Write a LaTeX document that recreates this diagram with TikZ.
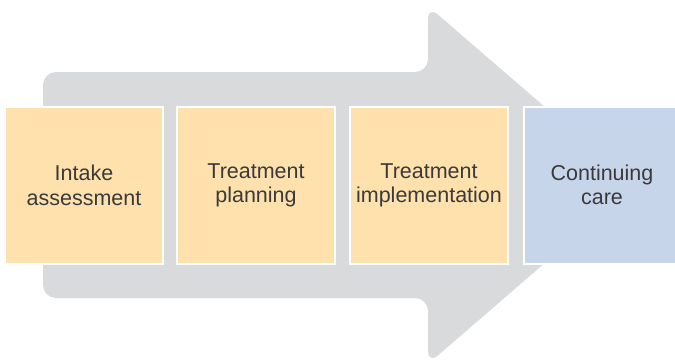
\documentclass[tikz,border=0pt]{standalone}
\usepackage{fontspec}
\setmainfont{Liberation Sans}
\definecolor{arrowgray}{HTML}{D9DADC}
\definecolor{stepyellow}{HTML}{FEE1AD}
\definecolor{stepblue}{HTML}{C7D5EB}
\definecolor{txt}{HTML}{3A3A3A}
\begin{document}
\begin{tikzpicture}[x=1bp,y=-1bp,
  stepbox/.style={draw=white,line width=2bp,minimum width=158bp,minimum height=157bp,
    inner sep=0pt,align=center,text=txt,anchor=north west,
    font=\fontsize{21.5bp}{24.5bp}\selectfont}]
\useasboundingbox (0,0) rectangle (675,361);
\begin{scope}
\clip (0,0) rectangle (675,361);
\fill[arrowgray,rounded corners=13bp] (43,72) -- (428,72) -- (428,6) -- (635,185) -- (428,364) -- (428,298) -- (43,298) -- cycle;
\node[stepbox,fill=stepyellow] (s1) at (4,106) {Intake\\assessment};
\node[stepbox,fill=stepyellow] (s2) at (176,106) {Treatment\\planning};
\node[stepbox,fill=stepyellow] (s3) at (349,106) {Treatment\\implementation};
\node[stepbox,fill=stepblue,minimum width=160bp] (s4) at (523,106) {};
\node[align=center,text=txt,font=\fontsize{21.5bp}{24.5bp}\selectfont] (t4) at (602,185) {Continuing\\care};
\end{scope}
\end{tikzpicture}
\end{document}
